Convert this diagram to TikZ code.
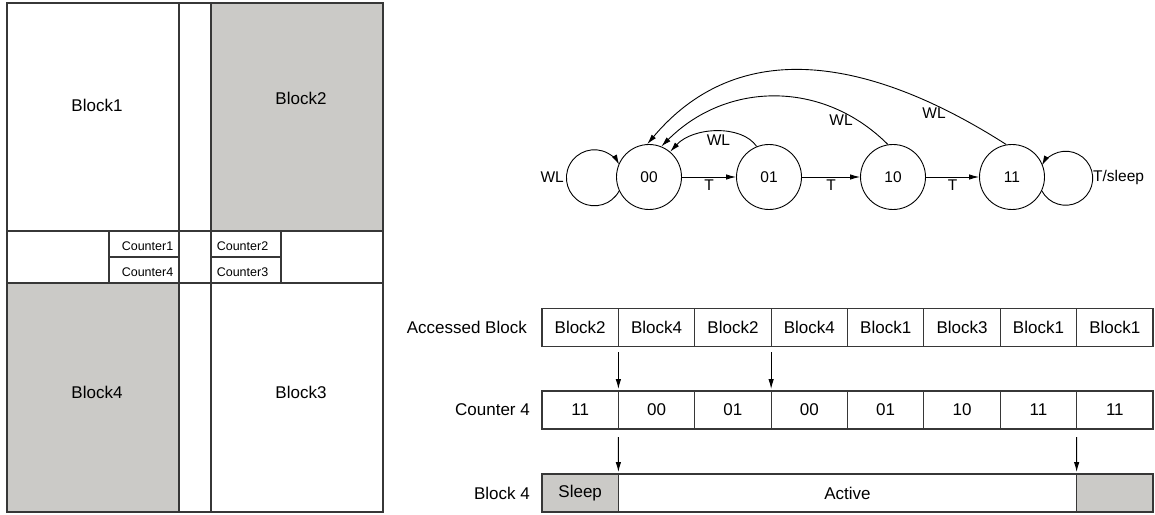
\documentclass[tikz,border=0pt]{standalone}
\usepackage{fontspec}
\setmainfont{Liberation Sans}
\usetikzlibrary{arrows.meta}
\definecolor{blkgray}{RGB}{203,202,199}
\definecolor{ln}{RGB}{55,55,55}
\begin{document}
\begin{tikzpicture}[x=1pt,y=1pt,
  grid/.style={draw=ln, line width=1.1pt},
  lbl/.style={font=\fontsize{17}{20}\selectfont, inner sep=0pt},
  ctr/.style={font=\fontsize{12.5}{14}\selectfont, inner sep=0pt},
  state/.style={circle, draw, line width=0.9pt, minimum size=65pt, inner sep=0pt, font=\fontsize{15.5}{18}\selectfont},
  elbl/.style={font=\fontsize{15.5}{18}\selectfont, inner sep=2pt},
  arr/.style={-{Latex[length=10pt,width=5.5pt]}, line width=0.9pt},
  cell/.style={draw=ln, line width=1.1pt, minimum width=76.375pt, minimum height=38pt, inner sep=0pt, outer sep=0pt, font=\fontsize{17}{20}\selectfont},
]
\useasboundingbox (0,0) rectangle (1155,514);

% ---------- left floor plan ----------
\fill[blkgray] (211,283) rectangle (383,511);
\fill[blkgray] (7,2) rectangle (179,231);
\draw[grid] (7,2) rectangle (383,511);
\draw[grid] (179,2) -- (179,511);
\draw[grid] (211,2) -- (211,511);
\draw[grid] (7,231) -- (383,231);
\draw[grid] (7,283) -- (383,283);
\draw[grid] (109,231) rectangle (179,283);
\draw[grid] (109,257) -- (179,257);
\draw[grid] (211,231) rectangle (281,283);
\draw[grid] (211,257) -- (281,257);

\node[lbl] (blk1) at (97,409) {Block1};
\node[lbl] (blk2) at (301,416) {Block2};
\node[lbl] (blk4) at (97,122) {Block4};
\node[lbl] (blk3) at (301,122) {Block3};
\node[ctr] (cnt1) at (147.5,268) {Counter1};
\node[ctr] (cnt4) at (147.5,242) {Counter4};
\node[ctr] (cnt2) at (242.5,268) {Counter2};
\node[ctr] (cnt3) at (242.5,242) {Counter3};

% ---------- state diagram ----------
\node[state] (s00) at (649,337) {00};
\node[state] (s01) at (769,337) {01};
\node[state] (s10) at (893,337) {10};
\node[state] (s11) at (1012,337) {11};

\draw[arr] (s00) -- node[elbl, below] {T} (s01);
\draw[arr] (s01) -- node[elbl, below] {T} (s10);
\draw[arr] (s10) -- node[elbl, below] {T} (s11);

\draw[arr] (s00.205) arc[start angle=-28, end angle=-332, radius=28];
\node[elbl, anchor=east, inner sep=0pt] (wlloop) at (564,337) {WL};
\draw[arr] (s11.-25) arc[start angle=208, end angle=512, radius=27];
\node[elbl, anchor=west, inner sep=0pt] (tsleep) at (1093,337) {T/sleep};

\draw[arr] (s01.112) .. controls +(-15,22) and +(23,25) .. node[elbl, below=1pt, xshift=2pt] {WL} (s00.50);
\draw[arr] (s10.99) .. controls +(-65,65) and +(65,65) .. node[elbl, pos=0.22, below=1pt] {WL} (s00.68);
\draw[arr] (s11.100) .. controls +(-125,80) and +(97,115) .. node[elbl, pos=0.19, below=1pt] {WL} (s00.93);

% ---------- access table ----------
\node[lbl, anchor=east] (racc) at (527,186.5) {Accessed Block};
\node[lbl, anchor=east] (rcnt) at (530,104) {Counter 4};
\node[lbl, anchor=east] (rblk) at (530,21) {Block 4};

\foreach \t [count=\i] in {Block2,Block4,Block2,Block4,Block1,Block3,Block1,Block1}
  \node[cell] (a\i) at ({542+(\i-0.5)*76.375},186.5) {\t};
\foreach \t [count=\i] in {11,00,01,00,01,10,11,11}
  \node[cell] (k\i) at ({542+(\i-0.5)*76.375},104) {\t};

\node[cell, fill=blkgray] (sleep) at (580.19,21) {Sleep};
\node[cell, minimum width=458.25pt] (active) at (847.5,21) {Active};
\node[cell, fill=blkgray] (tail) at (1114.81,21) {};

\draw[arr, shorten >=2pt] ([yshift=-6pt]a1.south east) -- (k1.north east);
\draw[arr, shorten >=2pt] ([yshift=-6pt]a3.south east) -- (k3.north east);
\draw[arr, shorten >=2pt] ([yshift=-8pt]k1.south east) -- (sleep.north east);
\draw[arr, shorten >=2pt] ([yshift=-8pt]k7.south east) -- (tail.north west);
\end{tikzpicture}
\end{document}
